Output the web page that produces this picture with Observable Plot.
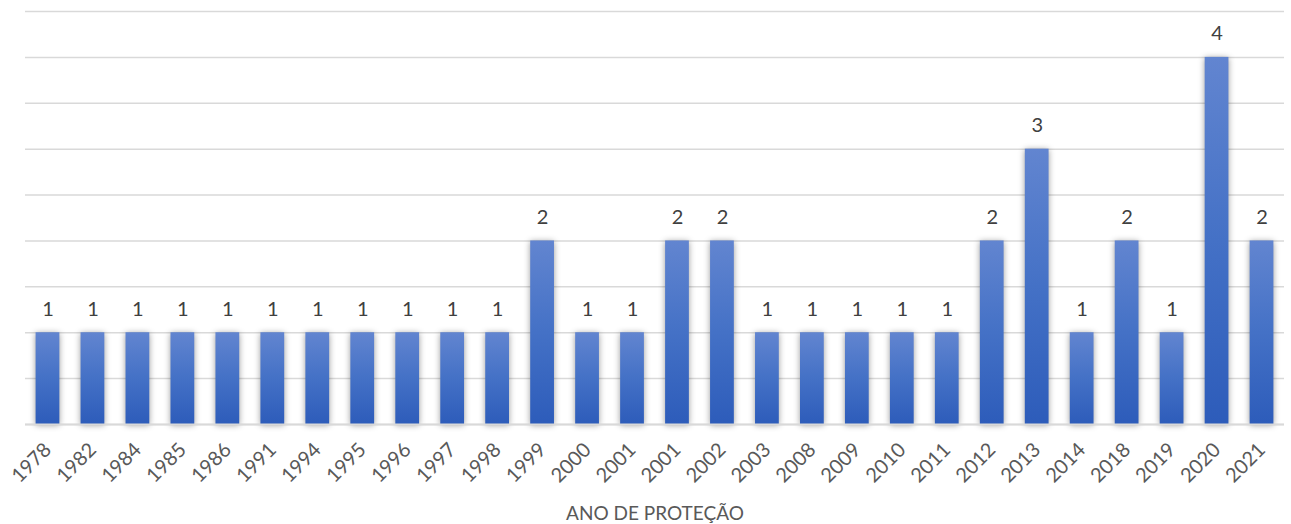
<!DOCTYPE html>
<html><head><meta charset="utf-8">
<script src="https://cdn.jsdelivr.net/npm/d3@7"></script>
<script src="https://cdn.jsdelivr.net/npm/@observablehq/plot@0.6"></script>
<style>
body{margin:0;background:#fff;}
#chart{width:1291px;height:524px;}
</style>
</head><body><div id="chart"></div>
<script>
const years = ["1978","1982","1984","1985","1986","1991","1994","1995","1996","1997","1998","1999","2000","2001","2001","2002","2003","2008","2009","2010","2011","2012","2013","2014","2018","2019","2020","2021"];
const counts = [1,1,1,1,1,1,1,1,1,1,1,2,1,1,2,2,1,1,1,1,1,2,3,1,2,1,4,2];
const gridValues = [0,0.5,1,1.5,2,2.5,3,3.5,4,4.5];
const axisTitle = "ANO DE PROTEÇÃO";

const data = years.map((y,i)=>({key:i, year:y, count:counts[i]}));

const plot = Plot.plot({
  width:1291, height:524,
  marginLeft:25, marginRight:7, marginTop:11, marginBottom:100,
  style:{fontFamily:"Lato, 'Open Sans', sans-serif", fontSize:"19px", color:"#595959", background:"#fff"},
  x:{domain:d3.range(years.length), padding:0, round:false, tickFormat:i=>years[i], tickRotate:-45, tickSize:0, tickPadding:22, label:axisTitle, labelAnchor:"center", labelArrow:"none", labelOffset:95},
  y:{domain:[0,4.5], axis:null},
  marks:[
    Plot.ruleY(gridValues,{stroke:"#d9d9d9", strokeWidth:1.5}),
    Plot.barY(data,{x:"key", y:"count", fill:"url(#barGrad)", insetLeft:10.6, insetRight:10.6}),
    Plot.ruleY([0],{stroke:"#d9d9d9", strokeWidth:2}),
    Plot.text(data,{x:"key", y:"count", text:d=>String(d.count), lineAnchor:"bottom", dy:-17, fill:"#404040", fontSize:20})
  ]
});
const ns="http://www.w3.org/2000/svg";
const defs=document.createElementNS(ns,"defs");
defs.innerHTML='<linearGradient id="barGrad" x1="0" y1="0" x2="0" y2="1"><stop offset="0" stop-color="#6285d0"/><stop offset="0.5" stop-color="#4471c6"/><stop offset="1" stop-color="#2d5cba"/></linearGradient>';
plot.insertBefore(defs, plot.firstChild);
plot.querySelectorAll("g[aria-label='bar'] rect").forEach(r=>r.setAttribute("style","filter:drop-shadow(0px 1px 3px rgba(0,0,0,0.4))"));
plot.querySelectorAll("g[aria-label='x-axis tick label'] text").forEach(t=>t.setAttribute("font-size","20"));
document.getElementById("chart").appendChild(plot);
</script></body></html>
